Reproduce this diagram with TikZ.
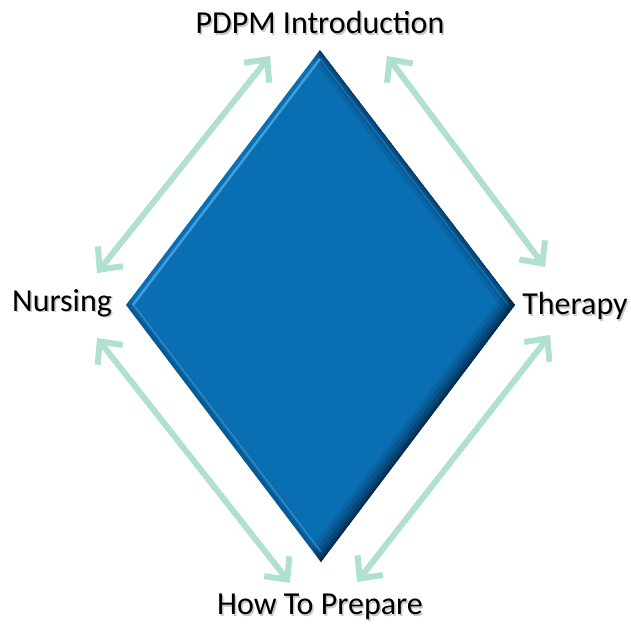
\documentclass[tikz,border=0pt]{standalone}
\usepackage{fontspec}
\setmainfont{Carlito}
\usetikzlibrary{arrows.meta,calc}
\definecolor{dblue}{RGB}{10,110,178}
\definecolor{hlblue}{RGB}{80,170,230}
\definecolor{dkblue}{RGB}{5,30,60}
\definecolor{mint}{RGB}{176,224,210}
\tikzset{
  lbl/.style={font=\fontsize{32}{36}\selectfont, text=black, inner sep=0pt},
  shd/.style={font=\fontsize{32}{36}\selectfont, text=black, opacity=0.22, inner sep=0pt},
  link/.style={draw=mint, line width=6pt, line cap=round, {Straight Barb[length=17pt,width=32pt,line width=6pt]}-{Straight Barb[length=17pt,width=32pt,line width=6pt]}},
  shadeline/.style={draw=dkblue, draw opacity=#1}
}
\begin{document}
\begin{tikzpicture}[x=1pt,y=-1pt]
\useasboundingbox (0,0) rectangle (631,623);
% diamond vertices
\coordinate (C) at (320,305);
\coordinate (T) at (320,50);
\coordinate (L) at (126,305);
\coordinate (R) at (515,305);
\coordinate (B) at (321,562);
\begin{scope}
\clip (T) -- (R) -- (B) -- (L) -- cycle;
\fill[dblue] (T) -- (R) -- (B) -- (L) -- cycle;
% bottom-right dark bevel
\foreach \w/\o in {32/0.12,24/0.18,16/0.25,9/0.32,4/0.4}
  \draw[shadeline=\o, line width=\w pt] ($(R)!-0.1!(B)$) -- ($(B)!-0.1!(R)$);
% top-right bevel
\foreach \w/\o in {24/0.1,16/0.15,9/0.2,4/0.25}
  \draw[shadeline=\o, line width=\w pt] ($(T)!-0.1!(R)$) -- ($(R)!-0.1!(T)$);
% bottom-left bevel
\foreach \w/\o in {16/0.1,7/0.15}
  \draw[shadeline=\o, line width=\w pt] ($(L)!-0.1!(B)$) -- ($(B)!-0.1!(L)$);
% highlight lines
\draw[hlblue, line width=2.5pt, opacity=0.8] ($(C)!0.965!(T)$) -- ($(C)!0.965!(L)$);
\draw[hlblue, line width=2pt, opacity=0.45] ($(C)!0.96!(L)$) -- ($(C)!0.96!(B)$);
\draw[hlblue, line width=1.5pt, opacity=0.25] ($(C)!0.965!(T)$) -- ($(C)!0.965!(R)$);
\end{scope}
% labels
\node[shd] at (321.5,24.5) {PDPM Introduction};
\node[lbl] (top) at (320,23) {PDPM Introduction};
\node[shd] at (63.5,304.5) {Nursing};
\node[lbl] (left) at (62,303) {Nursing};
\node[shd] at (576.5,307.5) {Therapy};
\node[lbl] (right) at (575,306) {Therapy};
\node[shd] at (321.5,608.5) {How To Prepare};
\node[lbl] (bottom) at (320,607) {How To Prepare};
% arrow ends
\coordinate (a1) at (270,56);
\coordinate (a2) at (97,273);
\coordinate (b1) at (387,56);
\coordinate (b2) at (545,267);
\coordinate (c1) at (97,338);
\coordinate (c2) at (290,583);
\coordinate (d1) at (550,335);
\coordinate (d2) at (357,582);
\draw[link] (a1) -- (a2);
\draw[link] (b1) -- (b2);
\draw[link] (c1) -- (c2);
\draw[link] (d1) -- (d2);
\end{tikzpicture}
\end{document}
